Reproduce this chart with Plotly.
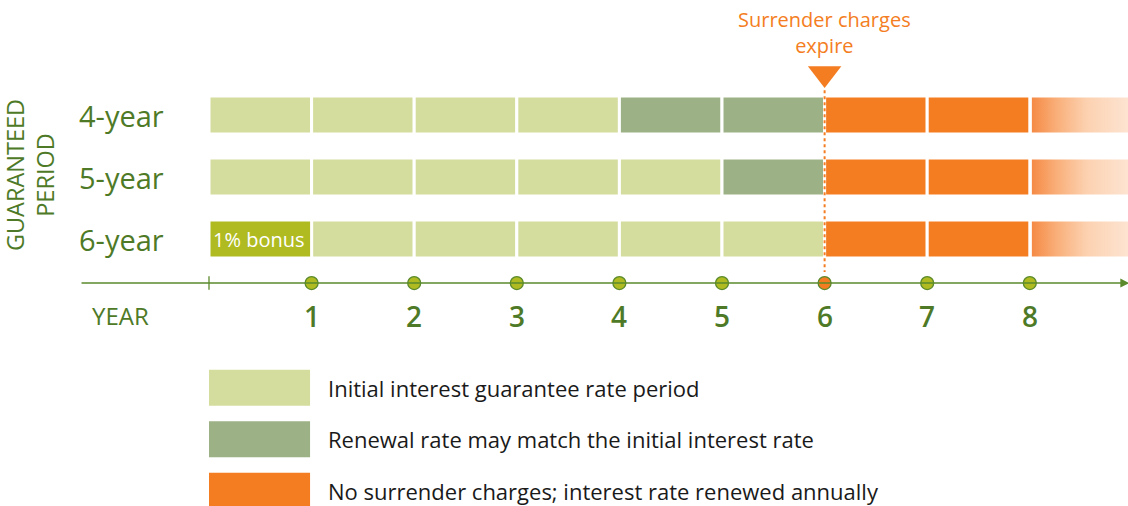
import plotly.graph_objects as go

# ---- data ----
periods = ["4-year", "5-year", "6-year"]
initial_years = [4, 5, 6]          # initial interest guarantee length
bonus_years = [0, 0, 1]            # years with 1% bonus
surrender_end_year = 6             # surrender charges expire
orange_end_year = 8                # solid orange through year 8, then fade
year_ticks = [1, 2, 3, 4, 5, 6, 7, 8]
legend_labels = [
    "Initial interest guarantee rate period",
    "Renewal rate may match the initial interest rate",
    "No surrender charges; interest rate renewed annually",
]

# ---- style ----
C_LIGHT = "#D5DD9E"
C_SAGE = "#9CB185"
C_ORANGE = "#F47D22"
C_BONUS = "#AFBB21"
C_GREEN = "#4E7A27"
C_AXIS = "#5B8A2C"
FONT = "Open Sans"

rows = list(range(len(periods)))
BAR_W = 0.613
AXIS_Y = 2.71

fig = go.Figure()

def add_segments(xs_base, ys, color):
    if not ys:
        return
    fig.add_trace(go.Bar(
        orientation="h", y=ys, base=xs_base, x=[1] * len(ys), width=BAR_W,
        marker=dict(color=color, line=dict(color="white", width=3)),
        hoverinfo="skip", showlegend=False))

light_b, light_y, sage_b, sage_y, or_b, or_y, bon_b, bon_y = [], [], [], [], [], [], [], []
for r, g, b in zip(rows, initial_years, bonus_years):
    for yr in range(0, orange_end_year):
        if yr < b:
            bon_b.append(yr); bon_y.append(r)
        elif yr < g:
            light_b.append(yr); light_y.append(r)
        elif yr < surrender_end_year:
            sage_b.append(yr); sage_y.append(r)
        else:
            or_b.append(yr); or_y.append(r)

add_segments(light_b, light_y, C_LIGHT)
add_segments(sage_b, sage_y, C_SAGE)
add_segments(or_b, or_y, C_ORANGE)
add_segments(bon_b, bon_y, C_BONUS)

# fading tail after year 8
for r in rows:
    x0, x1 = orange_end_year + 0.02, orange_end_year + 1.2
    y0, y1 = r - BAR_W / 2 + 0.024, r + BAR_W / 2 - 0.024
    fig.add_trace(go.Scatter(
        x=[x0, x1, x1, x0, x0], y=[y0, y0, y1, y1, y0], mode="lines",
        line=dict(width=0), fill="toself",
        fillgradient=dict(type="horizontal", colorscale=[
            [0, "#F58A45"], [0.2, "#F9AE78"], [0.45, "#FCD1B0"], [0.8, "#FDE4D2"], [1, "#FEE8D8"]]),
        hoverinfo="skip", showlegend=False))

# dotted line at surrender expiry
fig.add_trace(go.Scatter(
    x=[surrender_end_year, surrender_end_year], y=[-0.40, 2.53], mode="lines",
    line=dict(color=C_ORANGE, width=2, dash="dot"), hoverinfo="skip", showlegend=False))

# triangle marker
fig.add_trace(go.Scatter(
    x=[surrender_end_year], y=[-0.67], mode="markers",
    marker=dict(symbol="triangle-down", size=29, color=C_ORANGE, line=dict(width=0)),
    hoverinfo="skip", showlegend=False))

# timeline axis line with arrow
fig.add_annotation(x=8.97, y=AXIS_Y, ax=-1.257, ay=AXIS_Y, xref="x", yref="y",
                   axref="x", ayref="y", showarrow=True, arrowhead=2, arrowsize=1.2,
                   arrowwidth=1.5, arrowcolor=C_AXIS, text="")
fig.add_trace(go.Scatter(x=[0, 0], y=[AXIS_Y - 0.11, AXIS_Y + 0.11], mode="lines",
                         line=dict(color=C_AXIS, width=1.3), hoverinfo="skip", showlegend=False))
fig.add_trace(go.Scatter(
    x=year_ticks, y=[AXIS_Y] * len(year_ticks), mode="markers",
    marker=dict(size=13, color=[C_ORANGE if y == surrender_end_year else C_BONUS for y in year_ticks],
                line=dict(color=C_AXIS, width=1.3)),
    hoverinfo="skip", showlegend=False))

# year labels
for y in year_ticks:
    fig.add_annotation(x=y, y=3.24, text=str(y), showarrow=False,
                       font=dict(family=FONT, size=28, color=C_GREEN, weight=600))
fig.add_annotation(x=-0.86, y=3.24, text="YEAR", showarrow=False,
                   font=dict(family=FONT, size=24, color=C_GREEN))

# row labels
for r, p in zip(rows, periods):
    fig.add_annotation(x=-1.285, y=r, text=p, showarrow=False, xanchor="left",
                       font=dict(family=FONT, size=29, color=C_GREEN))
fig.add_annotation(x=-1.745, y=0.97, text="GUARANTEED<br>PERIOD", showarrow=False,
                   textangle=-90, font=dict(family=FONT, size=23.5, color=C_GREEN))

# bonus label
fig.add_annotation(x=0.02, y=2, text="1% bonus", showarrow=False, xanchor="left",
                   font=dict(family=FONT, size=20, color="white"))

# surrender text
fig.add_annotation(x=surrender_end_year, y=-1.33, text="Surrender charges<br>expire",
                   showarrow=False, font=dict(family=FONT, size=20, color=C_ORANGE))

# custom legend
leg_y = [4.40, 5.23, 6.06]
leg_c = [C_LIGHT, C_SAGE, C_ORANGE]
fig.add_trace(go.Bar(orientation="h", y=leg_y, base=[0] * 3, x=[0.985] * 3, width=0.58,
                     marker=dict(color=leg_c, line=dict(width=0)),
                     hoverinfo="skip", showlegend=False))
for ly, lt in zip(leg_y, legend_labels):
    fig.add_annotation(x=1.14, y=ly, text=lt, showarrow=False, xanchor="left",
                       font=dict(family=FONT, size=22, color="#1a1a1a"))

fig.update_layout(
    width=1128, height=506, margin=dict(l=0, r=0, t=0, b=0),
    paper_bgcolor="white", plot_bgcolor="white", barmode="overlay",
    xaxis=dict(range=[-2.037, 8.957], visible=False, fixedrange=True),
    yaxis=dict(range=[6.306, -1.855], visible=False, fixedrange=True),
)

fig.write_html("out.html", config={"displayModeBar": False},
               post_script="document.body.style.margin='0px';")
